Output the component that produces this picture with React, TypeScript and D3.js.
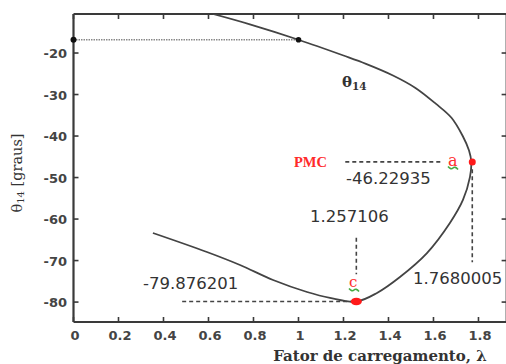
import React from "react";
import * as d3 from "d3";

const W = 506;
const H = 364;

// Curve θ14 vs λ (PV-type nose curve)
const lambdaValues = [0.62, 0.784, 1.0, 1.2, 1.3, 1.42, 1.52, 1.61, 1.68, 1.73, 1.758, 1.7680005, 1.762, 1.731, 1.673, 1.571, 1.451, 1.349, 1.257106, 1.14, 1.038, 0.887, 0.74, 0.593, 0.353];
const thetaValues = [-10.6, -13.1, -16.8, -20.6, -22.6, -25.4, -28.4, -32.2, -35.6, -40.0, -43.5, -46.22935, -49.9, -55.4, -60.95, -68.2, -73.96, -77.8, -79.876201, -79.0, -77.57, -74.68, -71.07, -67.94, -63.36];

const xTicks = [0, 0.2, 0.4, 0.6, 0.8, 1, 1.2, 1.4, 1.6, 1.8];
const yTicks = [-20, -30, -40, -50, -60, -70, -80];

const basePoint = { lambda: 1.0, theta: -16.8 };
const pmcPoint = { lambda: 1.7680005, theta: -46.22935 };
const minPoint = { lambda: 1.257106, theta: -79.876201 };

const TICK_FONT = "'DejaVu Sans', sans-serif";
const ANN_FONT = "'DejaVu Sans', sans-serif";
const SERIF = "'DejaVu Serif', serif";

export default function App() {
  const x = d3.scaleLinear().domain([0, 1.925]).range([73.5, 506.6]);
  const y = d3.scaleLinear().domain([-10.6, -84.8]).range([14, 322]);
  const [x0, x1] = x.range();
  const [y0, y1] = y.range();

  const pts: [number, number][] = lambdaValues.map((l, i) => [l, thetaValues[i]]);
  const line = d3
    .line<[number, number]>()
    .x((d) => x(d[0]))
    .y((d) => y(d[1]))
    .curve(d3.curveCatmullRom.alpha(0.5));

  const ink = "#3a3a3a";
  const dash = "4,3";

  const greenMark = (cx: number, cy: number) =>
    `M${cx - 5},${cy - 1.5} Q${cx - 2},${cy + 2} ${cx},${cy} Q${cx + 2},${cy - 2} ${cx + 5},${cy + 1.5}`;

  return (
    <svg
      width={W}
      height={H}
      style={{ position: "absolute", left: 0, top: 0, background: "#fff" }}
    >
      <defs>
        <clipPath id="plot">
          <rect x={x0} y={y0} width={x1 - x0} height={y1 - y0} />
        </clipPath>
      </defs>
      <rect x={0} y={0} width={W} height={H} fill="#fff" />

      {/* axes frame */}
      <line x1={x0} x2={x1} y1={y0} y2={y0} stroke={ink} strokeWidth={2} />
      <line x1={x0} x2={x1} y1={y1} y2={y1} stroke={ink} strokeWidth={2.2} />
      <line x1={x0} x2={x0} y1={y0} y2={y1} stroke={ink} strokeWidth={2.2} />
      <line x1={x1} x2={x1} y1={y0} y2={y1} stroke={ink} strokeWidth={2} />

      {xTicks.map((t) => (
        <g key={"xt" + t}>
          <line x1={x(t)} x2={x(t)} y1={y1} y2={y1 - 5} stroke={ink} strokeWidth={1.6} />
          <line x1={x(t)} x2={x(t)} y1={y0} y2={y0 + 5} stroke={ink} strokeWidth={1.6} />
          <text
            x={x(t) + 1.5}
            y={340}
            textAnchor="middle"
            fontFamily={TICK_FONT}
            fontWeight="bold"
            fontSize={13}
            fill="#444"
          >
            {t}
          </text>
        </g>
      ))}
      {yTicks.map((t) => (
        <g key={"yt" + t}>
          <line x1={x0} x2={x0 + 5} y1={y(t)} y2={y(t)} stroke={ink} strokeWidth={1.6} />
          <line x1={x1} x2={x1 - 5} y1={y(t)} y2={y(t)} stroke={ink} strokeWidth={1.6} />
          <text
            x={67}
            y={y(t) + 5}
            textAnchor="end"
            fontFamily={TICK_FONT}
            fontWeight="bold"
            fontSize={13}
            fill="#444"
          >
            {t}
          </text>
        </g>
      ))}

      {/* dotted reference at base point */}
      <line
        x1={x(0)}
        x2={x(basePoint.lambda)}
        y1={y(basePoint.theta)}
        y2={y(basePoint.theta)}
        stroke="#888"
        strokeWidth={1.3}
        strokeDasharray="1.5,1"
      />

      {/* curve */}
      <g clipPath="url(#plot)">
        <path d={line(pts) || ""} fill="none" stroke="#444" strokeWidth={1.8} />
      </g>

      <circle cx={x(0)} cy={y(basePoint.theta)} r={3} fill="#111" />
      <circle cx={x(basePoint.lambda)} cy={y(basePoint.theta)} r={2.8} fill="#111" />

      {/* curve label */}
      <text x={342} y={87} fontFamily={SERIF} fontWeight="bold" fontSize={15} fill="#333">
        θ
        <tspan fontSize={10.5} dy={3}>
          14
        </tspan>
      </text>

      {/* PMC annotation */}
      <text x={294} y={167} fontFamily="'Liberation Serif', serif" fontWeight="bold" fontSize={14.5} fill="#ff2a2a">
        PMC
      </text>
      <line
        x1={x(1.208)}
        x2={x(1.638)}
        y1={y(pmcPoint.theta)}
        y2={y(pmcPoint.theta)}
        stroke="#444"
        strokeWidth={1.6}
        strokeDasharray={dash}
      />
      <path d={greenMark(453, 168)} fill="none" stroke="#44aa44" strokeWidth={1.6} />
      <text x={448} y={166} fontFamily={SERIF} fontSize={16} fill="#ff3030">
        a
      </text>
      <text x={346} y={184} fontFamily={ANN_FONT} fontSize={16.5} fill="#333">
        {pmcPoint.theta}
      </text>
      <line
        x1={x(pmcPoint.lambda) + 1}
        x2={x(pmcPoint.lambda) + 1}
        y1={y(-48)}
        y2={y(-70.4)}
        stroke="#444"
        strokeWidth={1.6}
        strokeDasharray={dash}
      />
      <text x={413} y={284} fontFamily={ANN_FONT} fontSize={16.5} fill="#333">
        {pmcPoint.lambda.toFixed(7)}
      </text>
      <circle cx={x(pmcPoint.lambda) + 1} cy={y(pmcPoint.theta)} r={3.5} fill="#ff1a1a" />

      {/* minimum annotation */}
      <text x={310} y={222} fontFamily={ANN_FONT} fontSize={16.5} fill="#333">
        {minPoint.lambda}
      </text>
      <line
        x1={x(minPoint.lambda)}
        x2={x(minPoint.lambda)}
        y1={y(-64.5)}
        y2={y(-73.3)}
        stroke="#444"
        strokeWidth={1.6}
        strokeDasharray={dash}
      />
      <path d={greenMark(354, 290)} fill="none" stroke="#44aa44" strokeWidth={1.6} />
      <text x={349} y={287} fontFamily={SERIF} fontSize={15} fill="#ff3030">
        c
      </text>
      <text x={143} y={289} fontFamily={ANN_FONT} fontSize={16.5} fill="#333">
        {minPoint.theta}
      </text>
      <line
        x1={x(0.483)}
        x2={x(minPoint.lambda)}
        y1={y(minPoint.theta)}
        y2={y(minPoint.theta)}
        stroke="#444"
        strokeWidth={1.6}
        strokeDasharray={dash}
      />
      <ellipse cx={x(minPoint.lambda)} cy={y(minPoint.theta)} rx={5.5} ry={3.8} fill="#ff1a1a" />

      {/* axis titles */}
      <text
        x={380}
        y={361}
        textAnchor="middle"
        fontFamily={SERIF}
        fontWeight="bold"
        fontSize={15}
        fill="#333"
      >
        Fator de carregamento, λ
      </text>
      <text
        transform={`translate(22, 173) rotate(-90)`}
        textAnchor="middle"
        fontFamily={SERIF}
        fontSize={14.5}
        fill="#333"
      >
        θ
        <tspan fontSize={10} dy={2}>
          14
        </tspan>
        <tspan dy={-2}> [graus]</tspan>
      </text>
    </svg>
  );
}
